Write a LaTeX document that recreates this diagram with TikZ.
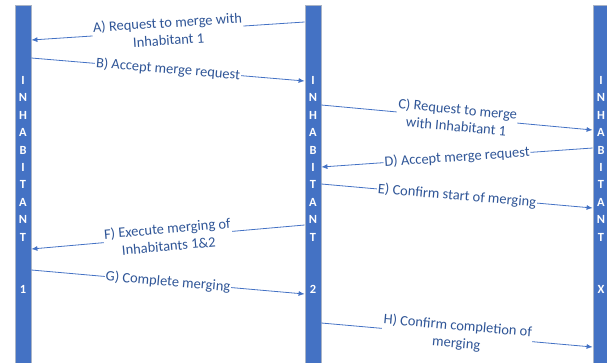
\documentclass[tikz,border=0pt]{standalone}
\usepackage{fontspec}
\setmainfont{Carlito}
\usetikzlibrary{arrows.meta}
\definecolor{barblue}{HTML}{4472C4}
\definecolor{baredge}{HTML}{A9B4C6}
\definecolor{msgblue}{HTML}{4472C4}
\definecolor{txtblue}{HTML}{2F5597}

\begin{document}
\begin{tikzpicture}[x=1bp, y=-1bp,
                    bar/.style={rectangle, draw=baredge, fill=barblue, line width=0.8bp,
                                minimum width=16bp, minimum height=360bp, inner sep=0pt,
                                text=white, align=center,
                                font=\bfseries\fontsize{12.5}{17.5}\selectfont},
                    msg/.style={draw=msgblue, line width=0.8bp, -{Latex[length=6bp,width=5bp]}},
                    lbl/.style={fill=white, text=txtblue, inner sep=1bp, sloped, align=center,
                                font=\fontsize{14.5}{17.5}\selectfont}]
  \useasboundingbox (0,0) rectangle (607,362);
  % the three inhabitants
  \node[bar] (inh1) at (23,185) {I\\N\\H\\A\\B\\I\\T\\A\\N\\T\\[35bp]1};
  \node[bar] (inh2) at (313,185) {I\\N\\H\\A\\B\\I\\T\\A\\N\\T\\[35bp]2};
  \node[bar] (inhx) at (601,185) {I\\N\\H\\A\\B\\I\\T\\A\\N\\T\\[35bp]X};
  % message ends
  \coordinate (aS) at (inh2.west |- 0,22);   \coordinate (aE) at (inh1.east |- 0,40);
  \coordinate (bS) at (inh1.east |- 0,58);   \coordinate (bE) at (inh2.west |- 0,81);
  \coordinate (cS) at (inh2.east |- 0,105);  \coordinate (cE) at (inhx.west |- 0,130);
  \coordinate (dS) at (inhx.west |- 0,148);  \coordinate (dE) at (inh2.east |- 0,167);
  \coordinate (eS) at (inh2.east |- 0,184);  \coordinate (eE) at (inhx.west |- 0,208);
  \coordinate (fS) at (inh2.west |- 0,225);  \coordinate (fE) at (inh1.east |- 0,249);
  \coordinate (gS) at (inh1.east |- 0,270);  \coordinate (gE) at (inh2.west |- 0,294);
  \coordinate (hS) at (inh2.east |- 0,323);  \coordinate (hE) at (inhx.west |- 0,347);
  % messages
  \draw[msg] (aS) -- node[lbl] {A) Request to merge with\\Inhabitant 1} (aE);
  \draw[msg] (bS) -- node[lbl] {B) Accept merge request} (bE);
  \draw[msg] (cS) -- node[lbl] {C) Request to merge\\with Inhabitant 1} (cE);
  \draw[msg] (dS) -- node[lbl] {D) Accept merge request} (dE);
  \draw[msg] (eS) -- node[lbl] {E) Confirm start of merging} (eE);
  \draw[msg] (fS) -- node[lbl] {F) Execute merging of\\Inhabitants 1\&2} (fE);
  \draw[msg] (gS) -- node[lbl] {G) Complete merging} (gE);
  \draw[msg] (hS) -- node[lbl] {H) Confirm completion of\\merging} (hE);
\end{tikzpicture}
\end{document}
